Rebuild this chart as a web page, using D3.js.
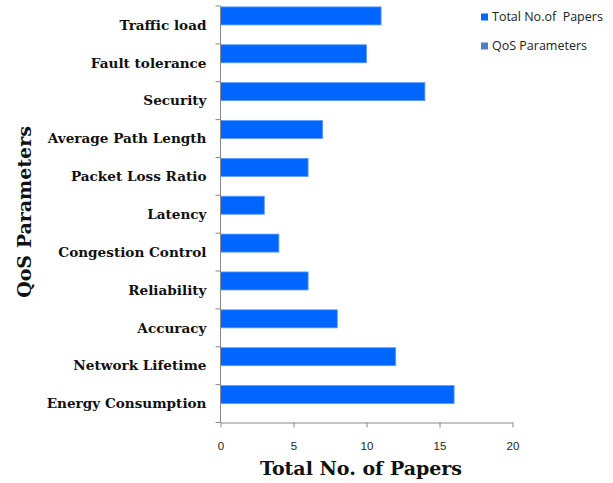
<!DOCTYPE html>
<html>
<head>
<meta charset="utf-8">
<script src="https://cdn.jsdelivr.net/npm/d3@7"></script>
<style>
  html, body { margin: 0; padding: 0; background: #fff; }
  svg { display: block; }
</style>
</head>
<body>
<svg id="chart" width="613" height="483"></svg>
<script>
// QoS parameters, top to bottom
const categories = [
  "Traffic load", "Fault tolerance", "Security", "Average Path Length",
  "Packet Loss Ratio", "Latency", "Congestion Control", "Reliability",
  "Accuracy", "Network Lifetime", "Energy Consumption"
];
// Number of papers per parameter
const totalPapers = [11, 10, 14, 7, 6, 3, 4, 6, 8, 12, 16];
// Second series is present in the legend but carries no values
const qosParameters = [0, 0, 0, 0, 0, 0, 0, 0, 0, 0, 0];
const seriesNames = ["Total No.of  Papers", "QoS Parameters"];
const seriesColors = ["#0066ff", "#4f81bd"];
const xTicks = [0, 5, 10, 15, 20];

const svg = d3.select("#chart");
const plotLeft = 220.5, plotRight = 512.5, plotTop = 6, plotBottom = 422.5;

const x = d3.scaleLinear().domain([0, 20]).range([plotLeft, plotRight]);
const y = d3.scaleBand().domain(categories).range([plotTop, plotBottom]).paddingInner(0).paddingOuter(0);
const sub = d3.scaleBand().domain(seriesNames).range([0, y.bandwidth()]).paddingInner(0).paddingOuter(0.05);

const rows = categories.map((c, i) => ({ cat: c, values: [totalPapers[i], qosParameters[i]] }));

// Bars
const groups = svg.append("g").selectAll("g").data(rows).join("g")
  .attr("transform", d => `translate(0,${y(d.cat)})`);
groups.selectAll("rect")
  .data(d => d.values.map((v, j) => ({ v, s: seriesNames[j], j })).filter(e => e.v > 0))
  .join("rect")
  .attr("x", x(0))
  .attr("y", e => sub(e.s))
  .attr("width", e => x(e.v) - x(0))
  .attr("height", sub.bandwidth())
  .attr("fill", e => seriesColors[e.j])
  .attr("stroke", "#5c9cff")
  .attr("stroke-width", 0.8);

// X axis
const xAxis = svg.append("g")
  .attr("transform", `translate(0,${plotBottom})`)
  .call(d3.axisBottom(x).tickValues(xTicks).tickSize(5).tickSizeOuter(0).tickPadding(14));
xAxis.select(".domain").attr("stroke", "#888");
xAxis.selectAll(".tick line").attr("stroke", "#888");
xAxis.selectAll("text")
  .attr("font-family", "'Liberation Sans', Arial, sans-serif")
  .attr("font-size", 11.5)
  .attr("fill", "#222");

// Y axis line with ticks at category boundaries
const yAxis = svg.append("g");
yAxis.append("line")
  .attr("x1", plotLeft).attr("x2", plotLeft).attr("y1", plotTop).attr("y2", plotBottom)
  .attr("stroke", "#888");
const edges = categories.map(c => y(c)).concat([y.range()[1]]);
yAxis.selectAll(".edge").data(edges).join("line")
  .attr("class", "edge")
  .attr("x1", plotLeft - 5).attr("x2", plotLeft)
  .attr("y1", d => d).attr("y2", d => d)
  .attr("stroke", "#888");
yAxis.selectAll(".lab").data(categories).join("text")
  .attr("class", "lab")
  .attr("x", plotLeft - 14)
  .attr("y", d => y(d) + y.bandwidth() / 2)
  .attr("dy", "0.35em")
  .attr("text-anchor", "end")
  .attr("font-family", "'DejaVu Serif', serif")
  .attr("font-weight", "bold")
  .attr("font-size", 13.6)
  .attr("fill", "#111")
  .text(d => d);

// Axis titles
svg.append("text")
  .attr("x", 361).attr("y", 475)
  .attr("text-anchor", "middle")
  .attr("font-family", "'DejaVu Serif', serif")
  .attr("font-weight", "bold")
  .attr("font-size", 19)
  .attr("fill", "#111")
  .text("Total No. of Papers");

svg.append("text")
  .attr("transform", "translate(31,212) rotate(-90)")
  .attr("text-anchor", "middle")
  .attr("font-family", "'DejaVu Serif', serif")
  .attr("font-weight", "bold")
  .attr("font-size", 19)
  .attr("fill", "#111")
  .text("QoS Parameters");

// Legend
const legend = svg.append("g").attr("transform", "translate(481,0)");
const legendY = [17, 46];
seriesNames.forEach((name, i) => {
  legend.append("rect")
    .attr("x", 0).attr("y", legendY[i] - 3.5)
    .attr("width", 7).attr("height", 7)
    .attr("fill", seriesColors[i]);
  legend.append("text")
    .attr("x", 11).attr("y", legendY[i])
    .attr("dy", "0.35em")
    .attr("font-family", "'Open Sans', sans-serif")
    .attr("font-size", 12.5)
    .attr("fill", "#222")
    .style("white-space", "pre")
    .text(name);
});
</script>
</body>
</html>
